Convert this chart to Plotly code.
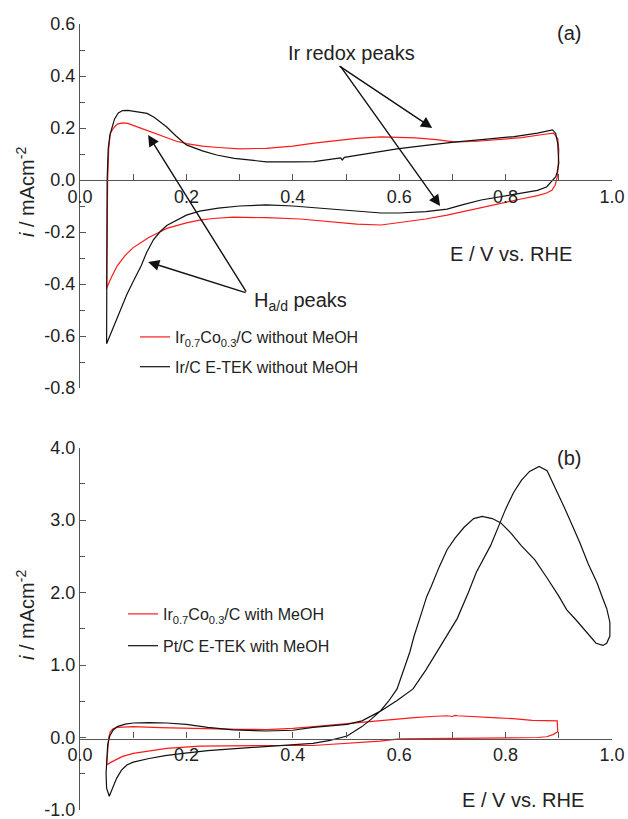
import plotly.graph_objects as go

# ---- (a) cyclic voltammograms without methanol ----
irco_a_E = [0.050, 0.051, 0.052, 0.054, 0.057, 0.063, 0.070, 0.080, 0.090, 0.100, 0.120, 0.140,
            0.160, 0.180, 0.200, 0.230, 0.260, 0.300, 0.350, 0.400, 0.440, 0.480, 0.520, 0.566,
            0.600, 0.630, 0.670, 0.703, 0.740, 0.784, 0.830, 0.870, 0.890, 0.898, 0.900, 0.899,
            0.897, 0.893, 0.887, 0.877, 0.860, 0.829, 0.790, 0.754, 0.720, 0.690, 0.650, 0.600,
            0.566, 0.520, 0.480, 0.440, 0.414, 0.350, 0.288, 0.250, 0.225, 0.200, 0.180, 0.163,
            0.150, 0.130, 0.115, 0.100, 0.085, 0.070, 0.060, 0.053, 0.050]
irco_a_i = [-0.420, -0.200, 0.000, 0.120, 0.180, 0.200, 0.215, 0.220, 0.218, 0.210, 0.195, 0.180,
            0.163, 0.150, 0.140, 0.130, 0.125, 0.120, 0.122, 0.130, 0.142, 0.152, 0.160, 0.166,
            0.165, 0.162, 0.155, 0.147, 0.148, 0.154, 0.163, 0.175, 0.180, 0.160, 0.115, 0.060,
            0.010, -0.020, -0.040, -0.050, -0.060, -0.073, -0.090, -0.108, -0.122, -0.135, -0.150, -0.165,
            -0.173, -0.170, -0.163, -0.155, -0.150, -0.145, -0.143, -0.148, -0.154, -0.165, -0.177, -0.186,
            -0.200, -0.220, -0.240, -0.260, -0.290, -0.330, -0.370, -0.400, -0.415]

ir_a_E = [0.050, 0.050, 0.051, 0.053, 0.056, 0.060, 0.065, 0.072, 0.080, 0.090, 0.100, 0.115,
          0.126, 0.140, 0.150, 0.163, 0.180, 0.200, 0.230, 0.257, 0.290, 0.313, 0.350, 0.400,
          0.440, 0.480, 0.490, 0.493, 0.497, 0.520, 0.560, 0.596, 0.650, 0.703, 0.760, 0.816,
          0.860, 0.880, 0.888, 0.894, 0.898, 0.900, 0.897, 0.894, 0.885, 0.877, 0.860, 0.829,
          0.790, 0.754, 0.720, 0.690, 0.650, 0.600, 0.566, 0.520, 0.480, 0.440, 0.400, 0.350,
          0.300, 0.260, 0.225, 0.200, 0.180, 0.163, 0.150, 0.138, 0.125, 0.115, 0.100, 0.088,
          0.078, 0.070, 0.062, 0.055, 0.050]
ir_a_i = [-0.630, -0.300, 0.000, 0.120, 0.170, 0.200, 0.235, 0.258, 0.267, 0.268, 0.265, 0.262,
          0.256, 0.240, 0.225, 0.204, 0.170, 0.135, 0.112, 0.096, 0.083, 0.077, 0.070, 0.070,
          0.071, 0.082, 0.085, 0.077, 0.087, 0.095, 0.108, 0.120, 0.133, 0.146, 0.156, 0.167,
          0.180, 0.190, 0.193, 0.180, 0.140, 0.065, 0.030, 0.012, -0.010, -0.027, -0.040, -0.050,
          -0.065, -0.077, -0.095, -0.112, -0.122, -0.127, -0.127, -0.120, -0.113, -0.107, -0.100, -0.096,
          -0.100, -0.108, -0.120, -0.135, -0.155, -0.175, -0.200, -0.230, -0.280, -0.330, -0.390, -0.440,
          -0.490, -0.530, -0.570, -0.610, -0.630]

# ---- (b) cyclic voltammograms with methanol ----
irco_b_E = [0.050, 0.052, 0.054, 0.057, 0.062, 0.070, 0.100, 0.150, 0.225, 0.300, 0.350, 0.400,
            0.440, 0.490, 0.534, 0.564, 0.600, 0.628, 0.660, 0.690, 0.700, 0.705, 0.710, 0.752,
            0.784, 0.814, 0.850, 0.897, 0.898, 0.889, 0.877, 0.860, 0.800, 0.700, 0.628, 0.600,
            0.564, 0.534, 0.490, 0.438, 0.350, 0.300, 0.225, 0.163, 0.130, 0.100, 0.080, 0.065,
            0.056, 0.050]
irco_b_i = [-0.380, -0.200, 0.000, 0.080, 0.120, 0.140, 0.150, 0.135, 0.120, 0.112, 0.110, 0.125,
            0.150, 0.185, 0.215, 0.232, 0.255, 0.275, 0.290, 0.300, 0.290, 0.305, 0.300, 0.290,
            0.272, 0.260, 0.235, 0.230, 0.080, 0.040, 0.010, 0.000, -0.005, -0.010, -0.012, -0.020,
            -0.050, -0.062, -0.080, -0.110, -0.110, -0.115, -0.120, -0.150, -0.185, -0.220, -0.260, -0.310,
            -0.350, -0.380]

pt_b_E = [0.055, 0.050, 0.049, 0.050, 0.052, 0.056, 0.062, 0.070, 0.085, 0.100, 0.130, 0.163,
          0.200, 0.240, 0.288, 0.350, 0.400, 0.438, 0.470, 0.502, 0.530, 0.564, 0.596, 0.626,
          0.650, 0.677, 0.709, 0.730, 0.745, 0.772, 0.787, 0.800, 0.815, 0.830, 0.845, 0.863,
          0.878, 0.890, 0.910, 0.925, 0.940, 0.955, 0.972, 0.982, 0.990, 0.996, 0.996, 0.990,
          0.983, 0.970, 0.953, 0.935, 0.915, 0.900, 0.878, 0.855, 0.829, 0.810, 0.791, 0.775,
          0.756, 0.740, 0.722, 0.705, 0.690, 0.675, 0.660, 0.652, 0.639, 0.628, 0.620, 0.608,
          0.596, 0.580, 0.564, 0.547, 0.530, 0.502, 0.470, 0.438, 0.400, 0.350, 0.288, 0.240,
          0.194, 0.160, 0.130, 0.100, 0.088, 0.078, 0.069, 0.062, 0.058, 0.055]
pt_b_i = [-0.810, -0.700, -0.500, -0.300, -0.100, 0.020, 0.100, 0.150, 0.185, 0.200, 0.205, 0.200,
          0.180, 0.140, 0.105, 0.090, 0.100, 0.140, 0.160, 0.180, 0.230, 0.360, 0.510, 0.670,
          0.930, 1.260, 1.640, 2.000, 2.280, 2.650, 2.920, 3.150, 3.380, 3.550, 3.670, 3.740,
          3.680, 3.500, 3.180, 2.930, 2.680, 2.400, 2.130, 1.930, 1.780, 1.590, 1.400, 1.300,
          1.270, 1.300, 1.450, 1.600, 1.760, 1.950, 2.200, 2.450, 2.650, 2.820, 2.960, 3.020,
          3.050, 3.020, 2.900, 2.750, 2.590, 2.350, 2.080, 1.950, 1.650, 1.400, 1.180, 0.920,
          0.670, 0.500, 0.360, 0.250, 0.150, 0.020, -0.040, -0.080, -0.100, -0.120, -0.150, -0.180,
          -0.220, -0.250, -0.290, -0.340, -0.380, -0.450, -0.560, -0.680, -0.770, -0.810]

# ---- tick labels (plain hyphen minus signs) ----
E_ticks = [0.0, 0.2, 0.4, 0.6, 0.8, 1.0]
E_labels = ["0.0", "0.2", "0.4", "0.6", "0.8", "1.0"]
ia_ticks = [-0.8, -0.6, -0.4, -0.2, 0.0, 0.2, 0.4, 0.6]
ia_labels = ["-0.8", "-0.6", "-0.4", "-0.2", "0.0", "0.2", "0.4", "0.6"]
ib_ticks = [-1.0, 0.0, 1.0, 2.0, 3.0, 4.0]
ib_labels = ["-1.0", "0.0", "1.0", "2.0", "3.0", "4.0"]

W, H = 628, 819
FONT = "Liberation Sans, Arial, sans-serif"
AX = "#555555"
TXT = "#222222"


def px_x(p):
    return p / W


def px_y(p):
    return 1 - p / H


fig = go.Figure()

fig.add_trace(go.Scatter(x=irco_a_E, y=irco_a_i, mode="lines", line=dict(color="#ff1a1a", width=1.2),
                         name="Ir<sub>0.7</sub>Co<sub>0.3</sub>/C without MeOH",
                         xaxis="x", yaxis="y", legend="legend", legendgroup="a1"))
fig.add_trace(go.Scatter(x=ir_a_E, y=ir_a_i, mode="lines", line=dict(color="#111111", width=1.2),
                         name="Ir/C E-TEK without MeOH",
                         xaxis="x", yaxis="y", legend="legend", legendgroup="a2"))
fig.add_trace(go.Scatter(x=irco_b_E, y=irco_b_i, mode="lines", line=dict(color="#ff1a1a", width=1.2),
                         name="Ir<sub>0.7</sub>Co<sub>0.3</sub>/C with MeOH",
                         xaxis="x2", yaxis="y2", legend="legend2", legendgroup="b1"))
fig.add_trace(go.Scatter(x=pt_b_E, y=pt_b_i, mode="lines", line=dict(color="#111111", width=1.2),
                         name="Pt/C E-TEK with MeOH",
                         xaxis="x2", yaxis="y2", legend="legend2", legendgroup="b2"))

tickfont = dict(family=FONT, size=18, color=TXT)
common_x = dict(range=[0, 1], showline=True, linecolor=AX, linewidth=1.3, ticks="inside", ticklen=6,
                tickcolor=AX, tickwidth=1.2, tickmode="array", tickvals=E_ticks, ticktext=E_labels,
                showgrid=False, zeroline=False, tickfont=tickfont, automargin=False,
                ticklabeloverflow="allow",
                minor=dict(tickmode="linear", dtick=0.1, tick0=0, ticks="inside", ticklen=6,
                           tickcolor=AX, tickwidth=1.2))
common_y = dict(showline=True, linecolor=AX, linewidth=1.3, ticks="inside", ticklen=6, tickcolor=AX,
                tickwidth=1.2, tickmode="array", showgrid=False, zeroline=False, tickfont=tickfont,
                automargin=False, ticklabeloverflow="allow")

xdom = [px_x(80), px_x(612)]
fig.update_layout(
    width=W, height=H, margin=dict(l=0, r=0, t=0, b=0, autoexpand=False),
    paper_bgcolor="white", plot_bgcolor="rgba(0,0,0,0)",
    xaxis=dict(domain=xdom, anchor="free", position=px_y(180), **common_x),
    yaxis=dict(domain=[px_y(388), px_y(24)], range=[-0.8, 0.6], anchor="x",
               tickvals=ia_ticks, ticktext=ia_labels,
               minor=dict(tickmode="linear", dtick=0.1, tick0=0, ticks="inside", ticklen=5,
                          tickcolor=AX, tickwidth=1.2),
               **common_y),
    xaxis2=dict(domain=xdom, anchor="free", position=px_y(738.5), **common_x),
    yaxis2=dict(domain=[px_y(810), px_y(447.5)], range=[-1, 4], anchor="x2",
                tickvals=ib_ticks, ticktext=ib_labels,
                minor=dict(tickmode="linear", dtick=0.5, tick0=0, ticks="inside", ticklen=5,
                           tickcolor=AX, tickwidth=1.2),
                **common_y),
    legend=dict(x=px_x(135), y=px_y(320), xanchor="left", yanchor="top", bgcolor="rgba(0,0,0,0)",
                font=dict(family=FONT, size=16, color=TXT), tracegroupgap=6, borderwidth=0),
    legend2=dict(x=px_x(123), y=px_y(597), xanchor="left", yanchor="top", bgcolor="rgba(0,0,0,0)",
                 font=dict(family=FONT, size=16, color=TXT), tracegroupgap=8, borderwidth=0),
    showlegend=True,
)

ann = []
lab = dict(family=FONT, size=20, color=TXT)
# axis titles
for yc in (192, 615):
    ann.append(dict(text="<i>i</i> / mAcm<sup>-2</sup>", x=px_x(25), y=px_y(yc), xref="paper", yref="paper",
                    textangle=-90, showarrow=False, font=dict(family=FONT, size=20, color=TXT),
                    xanchor="center", yanchor="middle"))
ann.append(dict(text="E / V vs. RHE", x=px_x(511), y=px_y(254), xref="paper", yref="paper",
                showarrow=False, font=lab, xanchor="center", yanchor="middle"))
ann.append(dict(text="E / V vs. RHE", x=px_x(523), y=px_y(800), xref="paper", yref="paper",
                showarrow=False, font=lab, xanchor="center", yanchor="middle"))
ann.append(dict(text="(a)", x=px_x(569), y=px_y(33), xref="paper", yref="paper",
                showarrow=False, font=lab, xanchor="center", yanchor="middle"))
ann.append(dict(text="(b)", x=px_x(569), y=px_y(458), xref="paper", yref="paper",
                showarrow=False, font=lab, xanchor="center", yanchor="middle"))
ann.append(dict(text="Ir redox peaks", x=px_x(351), y=px_y(53), xref="paper", yref="paper",
                showarrow=False, font=lab, xanchor="center", yanchor="middle"))
ann.append(dict(text="H<sub>a/d</sub> peaks", x=px_x(300), y=px_y(301), xref="paper", yref="paper",
                showarrow=False, font=lab, xanchor="center", yanchor="middle"))

# arrows (tip at x/y, tail at ax/ay, all in data units of panel a)
arrow = dict(showarrow=True, arrowhead=2, arrowsize=1.6, arrowwidth=1.4, arrowcolor="#111111",
             xref="x", yref="y", axref="x", ayref="y", text="", standoff=0)
for tip, tail in [((0.662, 0.200), (0.485, 0.442)),
                  ((0.677, -0.100), (0.488, 0.442)),
                  ((0.128, 0.173), (0.314, -0.435)),
                  ((0.128, -0.315), (0.314, -0.435))]:
    ann.append(dict(x=tip[0], y=tip[1], ax=tail[0], ay=tail[1], **arrow))

fig.update_layout(annotations=ann)
fig.write_html("out.html")
